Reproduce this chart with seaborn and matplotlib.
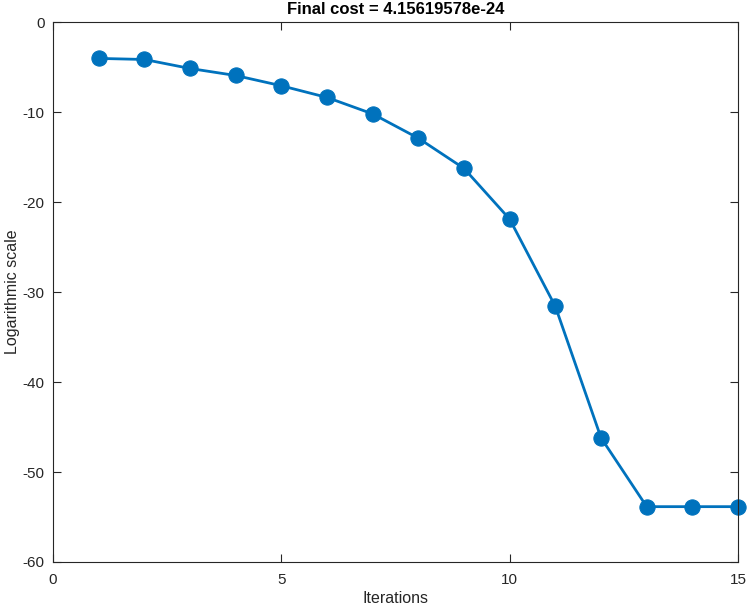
import numpy as np
import pandas as pd
import matplotlib
matplotlib.use("Agg")
import matplotlib.pyplot as plt
import seaborn as sns

# === data ===
iterations = [1, 2, 3, 4, 5, 6, 7, 8, 9, 10, 11, 12, 13, 14, 15]
log_cost = [-4.03, -4.15, -5.15, -5.93, -7.07, -8.37, -10.2, -12.9,
            -16.26, -21.9, -31.6, -46.2, -53.85, -53.85, -53.85]
title_text = "Final cost = 4.15619578e-24"

df = pd.DataFrame({"Iterations": iterations, "Logarithmic scale": log_cost})

sns.set_style("white")
plt.rcParams["font.family"] = ["Liberation Sans", "DejaVu Sans"]
plt.rcParams["axes.unicode_minus"] = False

fig = plt.figure(figsize=(7.47, 6.10), dpi=100)
ax = fig.add_axes([0.071, 0.0787, 0.917, 0.885])

sns.lineplot(data=df, x="Iterations", y="Logarithmic scale", ax=ax,
             color="#0072BD", linewidth=2, marker="o", markersize=11,
             markeredgecolor="#0072BD", clip_on=False)

ax.set_xlim(0, 15)
ax.set_ylim(-60, 0)
ax.set_xticks([0, 5, 10, 15])
ax.set_yticks([-60, -50, -40, -30, -20, -10, 0])

ax.tick_params(direction="in", length=6, width=0.8, colors="#262626",
               labelsize=11, top=True, right=True, bottom=True, left=True)
ax.tick_params(axis="x", pad=8)
ax.tick_params(axis="y", pad=6)
for s in ax.spines.values():
    s.set_color("#262626")
    s.set_linewidth(0.8)

ax.set_xlabel("Iterations", fontsize=11.5, color="#262626", labelpad=3)
ax.set_ylabel("Logarithmic scale", fontsize=11.5, color="#262626", labelpad=2)
ax.set_title(title_text, fontsize=12, fontweight="bold", color="black", pad=6)

fig.savefig("out.png", dpi=100)
